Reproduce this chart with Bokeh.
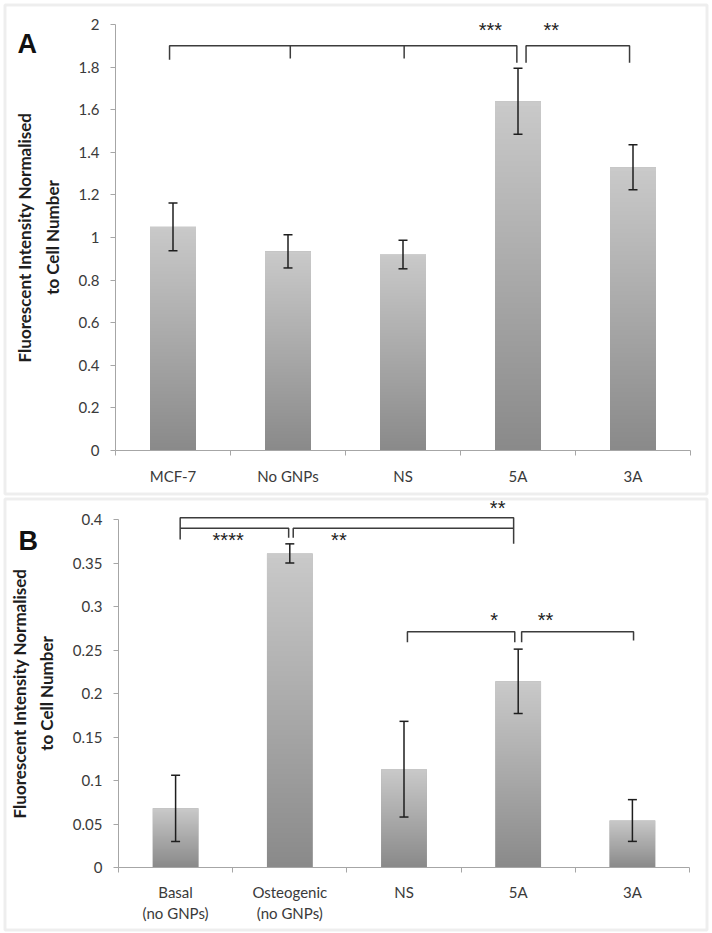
import numpy as np
from bokeh.plotting import figure
from bokeh.models import (ColumnDataSource, Whisker, TeeHead, FixedTicker,
                          CustomJSTickFormatter, Label, BoxAnnotation, Range1d)
from bokeh.layouts import column
from bokeh.embed import file_html
from bokeh.resources import INLINE
from bokeh.core.properties import value

# ---------------- data ----------------
a_categories = ["MCF-7", "No GNPs", "NS", "5A", "3A"]
a_values = [1.05, 0.935, 0.92, 1.64, 1.33]
a_errors = [0.112, 0.078, 0.067, 0.155, 0.106]
a_yticks = [0, 0.2, 0.4, 0.6, 0.8, 1, 1.2, 1.4, 1.6, 1.8, 2]

b_categories = ["Basal\n(no GNPs)", "Osteogenic\n(no GNPs)", "NS", "5A", "3A"]
b_values = [0.068, 0.361, 0.113, 0.214, 0.054]
b_errors = [0.038, 0.011, 0.055, 0.037, 0.024]
b_yticks = [0, 0.05, 0.1, 0.15, 0.2, 0.25, 0.3, 0.35, 0.4]

# significance brackets (paths in category / value units) and star labels
a_brackets_x = [[0.97, 0.97, 3.99, 3.99], [4.07, 4.07, 4.97, 4.97],
                [2.02, 2.02], [3.01, 3.01]]
a_brackets_y = [[1.835, 1.90, 1.90, 1.82], [1.82, 1.90, 1.90, 1.82],
                [1.90, 1.84], [1.90, 1.84]]
a_star_text = ["***", "**"]
a_star_x = [3.76, 4.29]
a_star_y = [1.977, 1.977]

b_brackets_x = [[1.04, 1.04, 3.96, 3.96], [1.04, 1.99, 1.99], [2.03, 2.03, 3.96],
                [3.03, 3.03, 3.97, 3.97], [4.03, 4.03, 5.01, 5.01]]
b_brackets_y = [[0.377, 0.402, 0.402, 0.372], [0.39, 0.39, 0.379], [0.379, 0.39, 0.39],
                [0.259, 0.271, 0.271, 0.259], [0.259, 0.271, 0.271, 0.261]]
b_star_text = ["**", "****", "**", "*", "**"]
b_star_x = [3.82, 1.46, 2.43, 3.79, 4.24]
b_star_y = [0.414, 0.378, 0.378, 0.286, 0.286]

# ---------------- style ----------------
FONT = "Lato"
AXIS_COL = "#a6a6a6"
TXT_COL = "#3a3a3a"
BORDER_COL = "#c8c8c8"
FIG_W = 711


def gradient_image(n=64):
    bottom = np.array([138, 138, 138], dtype=float)
    top = np.array([202, 202, 202], dtype=float)
    img = np.empty((n, 1), dtype=np.uint32)
    view = img.view(dtype=np.uint8).reshape((n, 1, 4))
    for i in range(n):
        t = i / (n - 1)
        c = bottom + (top - bottom) * t
        view[i, 0, 0] = int(c[0]); view[i, 0, 1] = int(c[1]); view[i, 0, 2] = int(c[2])
        view[i, 0, 3] = 255
    return img


def make_panel(cats, vals, errs, yticks, ymax, letter, brx, bry, st, sx, sy,
               height, axis_x, zero_y, top_y, cat_px, border_tb, letter_px,
               xstandoff):
    """axis_x: pixel of the y axis; zero_y / top_y: pixels of 0 and ymax;
    cat_px: pixel width of one category. The frame fills the whole canvas and the
    axes are drawn at fixed locations inside it."""
    n = len(cats)
    xs = list(range(1, n + 1))
    ppu_y = (zero_y - top_y) / ymax
    x0 = 0.5 - axis_x / cat_px
    x1 = x0 + FIG_W / cat_px
    y0 = -(height - zero_y) / ppu_y
    y1 = zero_y / ppu_y

    def dx(px):
        return x0 + px / cat_px

    def dy(py):
        return (zero_y - py) / ppu_y

    p = figure(width=FIG_W, height=height, output_backend="svg", toolbar_location=None,
               x_range=Range1d(x0, x1), y_range=Range1d(y0, y1),
               min_border_left=0, min_border_right=0,
               min_border_top=0, min_border_bottom=0,
               background_fill_color="white", border_fill_color="white")
    p.outline_line_color = None
    p.grid.visible = False

    src = ColumnDataSource(dict(x=xs, top=vals,
                                upper=[v + e for v, e in zip(vals, errs)],
                                lower=[v - e for v, e in zip(vals, errs)]))
    p.vbar(x="x", top="top", width=0.4, source=src, fill_color="#a8a8a8", line_color=None)
    img = gradient_image()
    p.image_rgba(image=[img] * n, x=[x - 0.2 for x in xs], y=[0] * n,
                 dw=[0.4] * n, dh=vals)

    w = Whisker(source=src, base="x", upper="upper", lower="lower",
                line_color="#1e1e1e", line_width=1.5, level="overlay",
                upper_head=TeeHead(size=9, line_color="#1e1e1e", line_width=1.5),
                lower_head=TeeHead(size=9, line_color="#1e1e1e", line_width=1.5))
    p.add_layout(w)

    p.multi_line(xs=brx, ys=bry, line_color="#3c3c3c", line_width=1.5)
    p.text(x=sx, y=sy, text=st, text_font=value("Liberation Sans"), text_font_size="20px",
           text_align="center", text_baseline="middle", text_color="#222222", y_offset=1)

    # axes (drawn at fixed data locations inside the frame)
    xa = p.xaxis[0]
    xa.fixed_location = 0
    xa.bounds = (0.5, n + 0.5)
    xa.ticker = FixedTicker(ticks=xs, minor_ticks=[x - 0.5 for x in xs] + [n + 0.5])
    xa.major_label_overrides = {x: c for x, c in zip(xs, cats)}
    xa.major_tick_in = 0
    xa.major_tick_out = 0
    xa.minor_tick_in = 0
    xa.minor_tick_out = 5
    xa.minor_tick_line_color = AXIS_COL
    xa.axis_line_color = AXIS_COL
    xa.major_label_text_font = FONT
    xa.major_label_text_font_size = "15px"
    xa.major_label_text_color = TXT_COL
    xa.major_label_standoff = xstandoff

    ya = p.yaxis[0]
    ya.fixed_location = 0.5
    ya.bounds = (0, ymax)
    ya.ticker = FixedTicker(ticks=yticks, minor_ticks=[])
    ya.formatter = CustomJSTickFormatter(code="return tick.toString()")
    ya.major_tick_in = 0
    ya.major_tick_out = 5
    ya.major_tick_line_color = AXIS_COL
    ya.axis_line_color = AXIS_COL
    ya.major_label_text_font = FONT
    ya.major_label_text_font_size = "15px"
    ya.major_label_text_color = TXT_COL
    ya.major_label_standoff = 11
    ya.axis_label = "Fluorescent Intensity Normalised\nto Cell Number"
    ya.axis_label_text_font = FONT
    ya.axis_label_text_font_style = "bold"
    ya.axis_label_text_font_size = "17px"
    ya.axis_label_text_line_height = 1.3
    ya.axis_label_text_color = "#1e1e1e"
    ya.axis_label_standoff = 13

    box = BoxAnnotation(left=dx(4.5), right=dx(706.5), top=dy(border_tb[0]),
                        bottom=dy(border_tb[1]),
                        fill_alpha=0, line_color=BORDER_COL, line_width=3, level="overlay")
    p.add_layout(box)
    lab = Label(x=dx(letter_px[0]), y=dy(letter_px[1]), text=letter,
                text_font="Liberation Sans", text_font_style="bold", text_font_size="27px",
                text_align="left", text_baseline="alphabetic", text_color="#111111")
    p.add_layout(lab)
    return p


pa = make_panel(a_categories, a_values, a_errors, a_yticks, 2, "A",
                a_brackets_x, a_brackets_y, a_star_text, a_star_x, a_star_y,
                height=496, axis_x=115, zero_y=450, top_y=24, cat_px=115,
                border_tb=(4.5, 493.5), letter_px=(17, 43), xstandoff=11)
pb = make_panel(b_categories, b_values, b_errors, b_yticks, 0.4, "B",
                b_brackets_x, b_brackets_y, b_star_text, b_star_x, b_star_y,
                height=436, axis_x=118, zero_y=371, top_y=23, cat_px=114.2,
                border_tb=(2.5, 433.5), letter_px=(18, 44), xstandoff=10)

layout = column(pa, pb, spacing=0)
open("out.html", "w").write(file_html(layout, INLINE))
